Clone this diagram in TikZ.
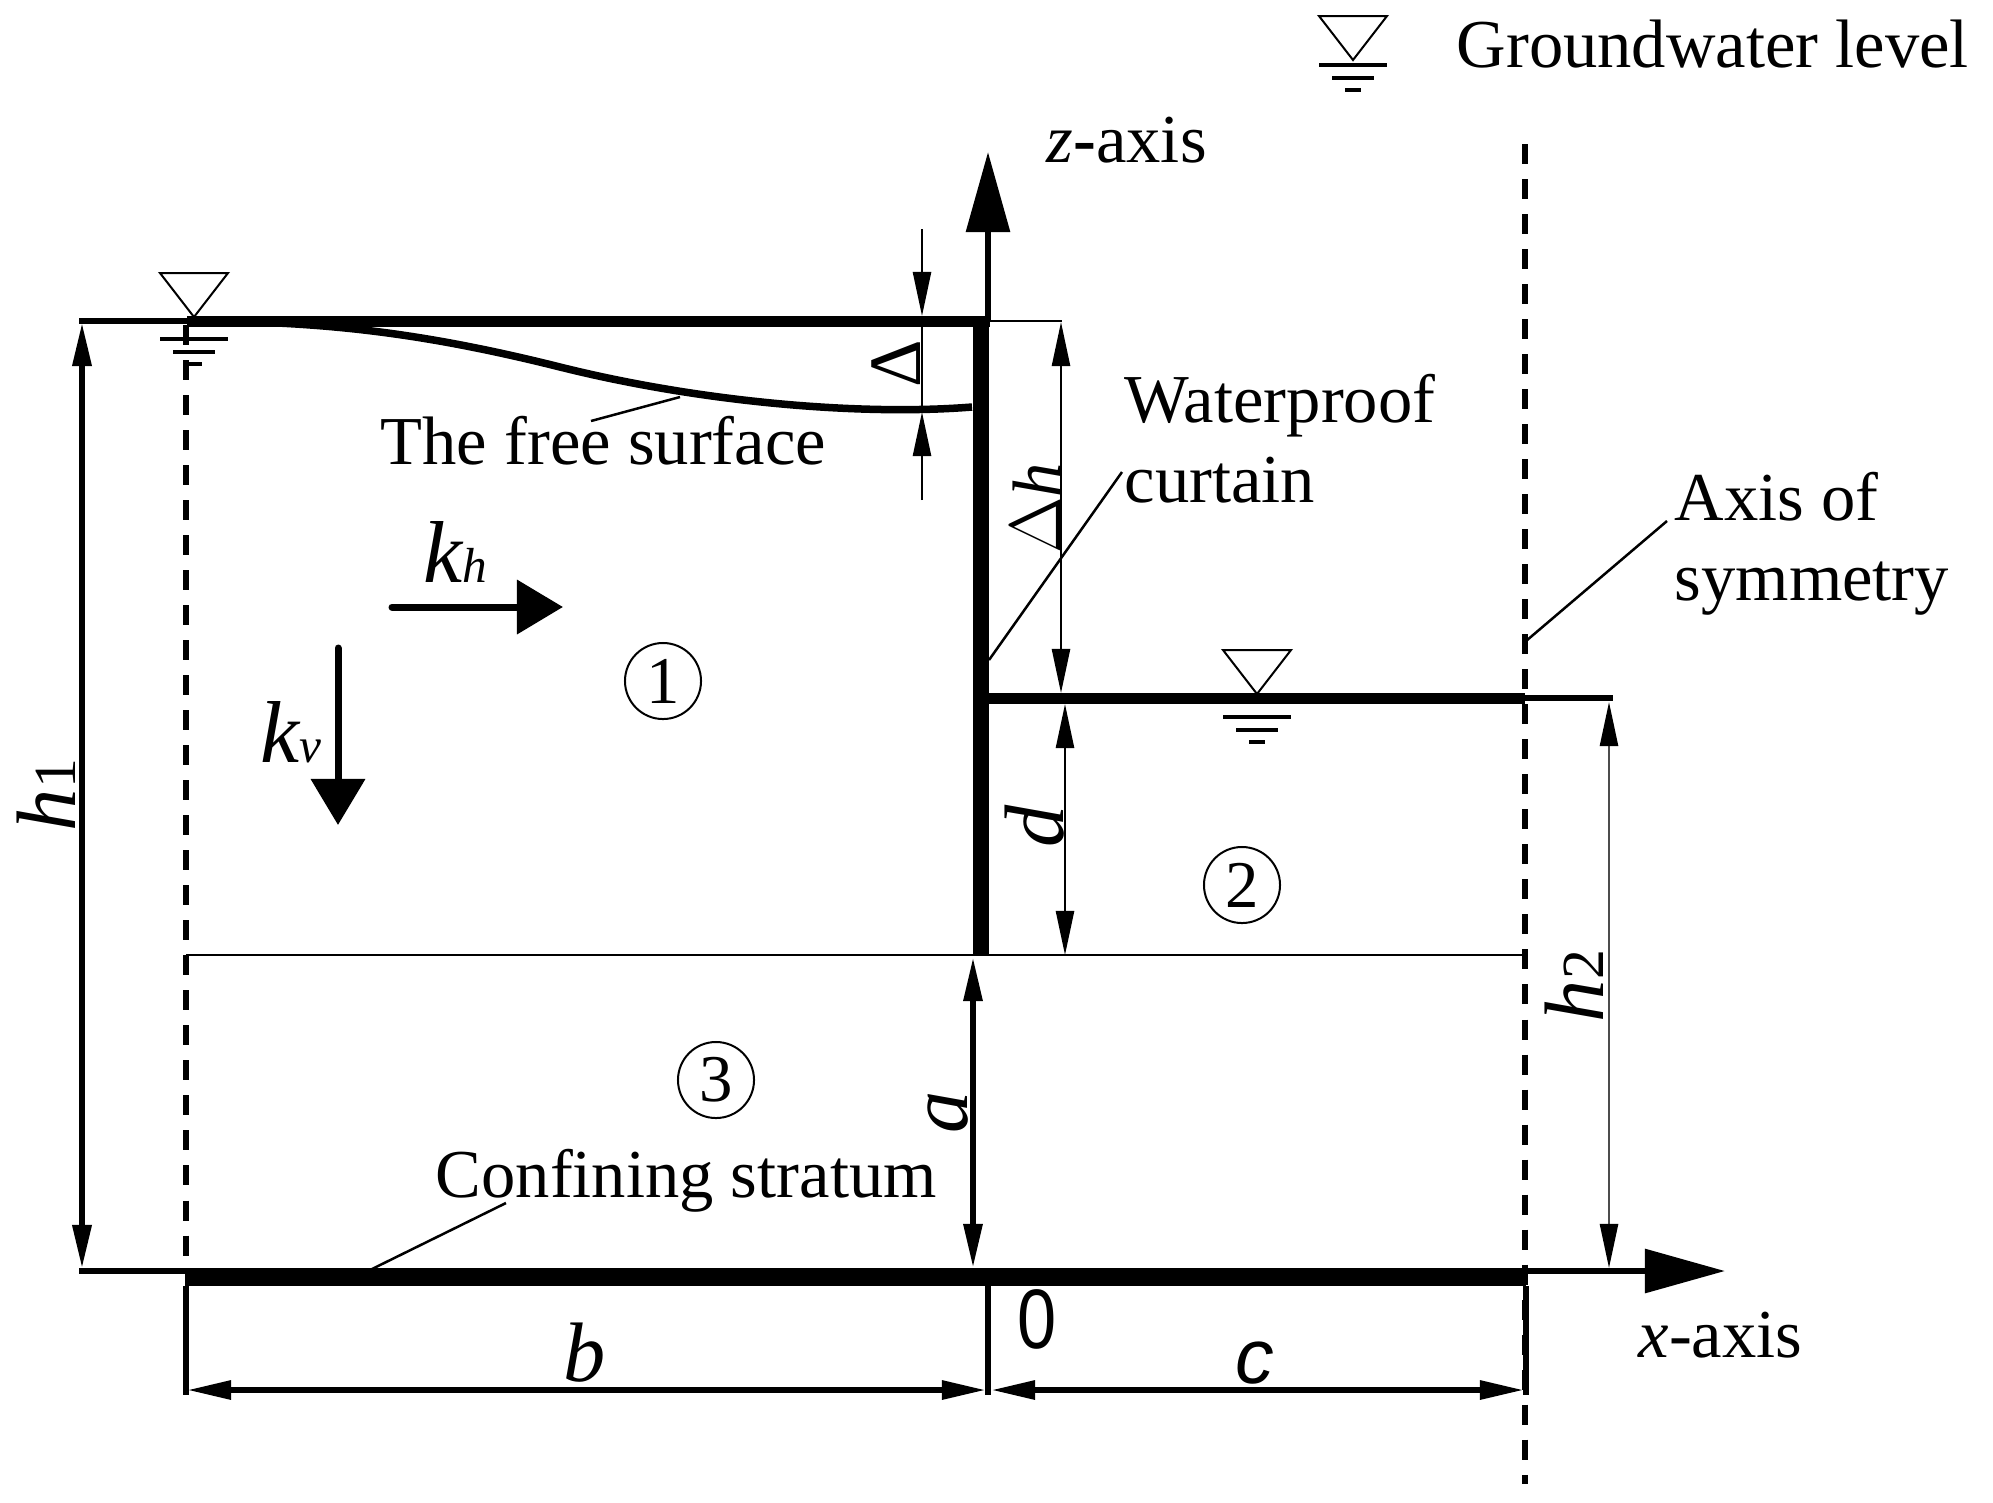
\documentclass[tikz,border=0pt]{standalone}
\usepackage{fontspec}
\setmainfont{Liberation Serif}
\newfontfamily\sansfont{Liberation Sans}
\usetikzlibrary{arrows.meta, calc}
\tikzstyle{txt} = [inner sep=0pt, anchor=base west, align=left, node font=\fontsize{19.5}{22.8}\selectfont]
\tikzstyle{sym} = [inner sep=0pt, anchor=base, node font=\fontsize{24}{28}\selectfont\itshape]
\tikzstyle{dimv} = [sym, rotate=90]
\tikzstyle{zone} = [circle, draw, line width=0.02cm, minimum size=0.76cm, inner sep=0pt, node font=\fontsize{19}{22}\selectfont]
\tikzstyle{leader} = [line width=0.025cm]
\tikzstyle{ground} = [line width=0.11cm]
\tikzstyle{stratum} = [line width=0.165cm]
\tikzstyle{rule} = [line width=0.06cm]
\tikzstyle{guide} = [line width=0.025cm]
\tikzstyle{symline} = [line width=0.065cm, dash pattern=on 0.20cm off 0.15cm]
\tikzstyle{dimarrow} = [{Triangle[length=0.44cm,width=0.18cm]}-{Triangle[length=0.44cm,width=0.18cm]}]
\tikzstyle{greyarrow} = [{Triangle[length=0.44cm,width=0.18cm,black]}-{Triangle[length=0.44cm,width=0.18cm,black]}]
\tikzstyle{downarrow} = [-{Triangle[length=0.44cm,width=0.18cm]}]
\tikzstyle{axisarrow} = [line width=0.06cm, -{Triangle[length=0.8cm,width=0.43cm]}]
\tikzstyle{flowarrow} = [line width=0.07cm, line cap=round, -{Triangle[length=0.46cm,width=0.53cm]}]
\tikzset{pics/level/.style={code={
    \draw[line width=0.02cm] (-34,0) -- (34,0) -- (0,44) -- cycle;
    \draw[line width=0.045cm] (-34,#1) -- (34,#1);
    \draw[line width=0.035cm] (-21,#1+13) -- (21,#1+13);
    \draw[line width=0.035cm] (-8,#1+25) -- (8,#1+25);
}}}

\begin{document}
\begin{tikzpicture}[x=0.01cm,y=-0.01cm]
    \useasboundingbox (0,0) rectangle (1993,1502);

    % main levels
    \coordinate (topleft) at (79,321);
    \coordinate (topthick) at (187,321);
    \coordinate (topright) at (990,321);
    \coordinate (lowleft) at (989,698);
    \coordinate (lowaxis) at (1525,698);
    \coordinate (lowright) at (1613,698);
    \coordinate (baseleft) at (79,1271);
    \coordinate (xtip) at (1725,1271);
    \coordinate (stratleft) at (185,1278);
    \coordinate (stratright) at (1526,1278);
    \coordinate (cuttop) at (981,321);
    \coordinate (cutbottom) at (981,955);
    \coordinate (zfoot) at (988,321);
    \coordinate (ztip) at (988,152);
    \coordinate (tipleft) at (186,955);
    \coordinate (tipright) at (1525,955);

    % symmetry lines
    \coordinate (symltop) at (186,325);
    \coordinate (symlbot) at (186,1270);
    \coordinate (symrtop) at (1525,144);
    \coordinate (symrbot) at (1525,1484);

    \draw[symline] (symltop) -- (symlbot);
    \draw[symline] (symrtop) -- (symrbot);

    \draw[rule] (topleft) -- (topthick);
    \draw[ground] (topthick) -- (topright);
    \draw[ground] (lowleft) -- (lowaxis);
    \draw[rule] (lowaxis) -- (lowright);
    \draw[stratum] (cuttop) -- (cutbottom);
    \draw[axisarrow] (zfoot) -- (ztip);
    \draw[axisarrow] (baseleft) -- (xtip);
    \draw[stratum] (stratleft) -- (stratright);
    \draw[guide] (tipleft) -- (tipright);

    % free surface
    \coordinate (freestart) at (190,321);
    \coordinate (freeend) at (972,407);
    \draw[line width=0.075cm] (freestart) .. controls (320,321) and (420,332) .. (560,367) .. controls (700,402) and (860,416) .. (freeend);

    % water levels
    \pic at (194,273) {level=66};
    \pic at (1257,650) {level=67};
    \pic at (1353,16) {level=49};

    % dimensions
    \coordinate (hatop) at (82,322);
    \coordinate (habot) at (82,1269);
    \draw[dimarrow, line width=0.065cm] (hatop) -- (habot);

    \coordinate (hbtop) at (1609,702);
    \coordinate (hbbot) at (1609,1268);
    \draw[greyarrow, line width=0.025cm, black!70] (hbtop) -- (hbbot);

    \coordinate (atop) at (973,957);
    \coordinate (abot) at (973,1268);
    \draw[dimarrow, line width=0.06cm] (atop) -- (abot);

    \coordinate (dtop) at (1065,704);
    \coordinate (dbot) at (1065,955);
    \draw[dimarrow, line width=0.025cm] (dtop) -- (dbot);

    \coordinate (dhright) at (1062,321);
    \coordinate (dhtop) at (1061,322);
    \coordinate (dhbot) at (1061,693);
    \draw[guide] (topright) -- (dhright);
    \draw[dimarrow, line width=0.025cm] (dhtop) -- (dhbot);

    \coordinate (gapa) at (922,229);
    \coordinate (gapb) at (922,316);
    \coordinate (gapc) at (922,500);
    \coordinate (gapd) at (922,412);
    \draw[downarrow, line width=0.025cm] (gapa) -- (gapb);
    \draw[downarrow, line width=0.025cm] (gapc) -- (gapd);
    \draw[guide] (gapb) -- (gapd);

    \coordinate (blefttop) at (186,1286);
    \coordinate (bleftbot) at (186,1395);
    \coordinate (bmidtop) at (988,1286);
    \coordinate (bmidbot) at (988,1395);
    \coordinate (brighttop) at (1526,1286);
    \coordinate (brightbot) at (1526,1395);
    \draw[rule] (blefttop) -- (bleftbot);
    \draw[rule] (bmidtop) -- (bmidbot);
    \draw[rule] (brighttop) -- (brightbot);

    \coordinate (bdimleft) at (187,1390);
    \coordinate (bdimright) at (986,1390);
    \coordinate (cdimleft) at (991,1390);
    \coordinate (cdimright) at (1524,1390);
    \draw[dimarrow, line width=0.06cm] (bdimleft) -- (bdimright);
    \draw[dimarrow, line width=0.06cm] (cdimleft) -- (cdimright);

    % flow arrows
    \coordinate (khstart) at (392,607);
    \coordinate (khtip) at (563,607);
    \coordinate (kvstart) at (338,648);
    \coordinate (kvtip) at (338,825);
    \draw[flowarrow] (khstart) -- (khtip);
    \draw[flowarrow] (kvstart) -- (kvtip);

    % text
    \node[txt] (legend) at (1456,67) {Groundwater level};
    \node[txt] (zaxis) at (1046,162) {\textit{z}\textbf{-}axis};
    \node[txt] (xaxis) at (1638,1357) {\textit{x}-axis};
    \node[txt] (freetext) at (380,464) {The free surface};
    \node[txt] (confining) at (435,1197) {Confining stratum};
    \node[txt, anchor=north west] (curtain) at (1124,373) {Waterproof\\curtain};
    \node[txt, anchor=north west] (symmetry) at (1674,471) {Axis of\\symmetry};

    % leaders
    \coordinate (freefoot) at (591,421);
    \coordinate (freehead) at (680,397);
    \coordinate (curtainfoot) at (989,660);
    \coordinate (curtainhead) at (1122,472);
    \coordinate (symfoot) at (1526,641);
    \coordinate (symhead) at (1667,521);
    \coordinate (confinefoot) at (372,1269);
    \coordinate (confinehead) at (506,1203);
    \draw[leader] (freefoot) -- (freehead);
    \draw[leader] (curtainfoot) -- (curtainhead);
    \draw[leader] (symfoot) -- (symhead);
    \draw[leader] (confinefoot) -- (confinehead);

    % zones
    \node[zone] (zoneone) at (663,681) {1};
    \node[zone] (zonetwo) at (1242,885) {2};
    \node[zone] (zonethree) at (716,1080) {3};

    % symbols
    \node[sym, anchor=base west] (kh) at (423,582) {\fontsize{25}{30}\selectfont k\fontsize{14}{16}\selectfont h};
    \node[sym, anchor=base west] (kv) at (260,762) {\fontsize{25}{30}\selectfont k\fontsize{14}{16}\selectfont v};
    \node[dimv] (hone) at (75,795) {h\fontsize{17}{20}\selectfont\upshape 1};
    \node[dimv] (htwo) at (1603,986) {h\fontsize{17}{20}\selectfont\upshape 2};
    \node[dimv] (dlabel) at (1063,826) {d};
    \node[dimv] (alabel) at (967,1112) {a};
    \node[dimv, node font=\fontsize{19.5}{22}\selectfont] (dhlabel) at (1060,508) {$\Delta$\textit{h}};
    \node[dimv, node font=\fontsize{21}{24}\selectfont\upshape] (gaplabel) at (920,364) {Δ};
    \node[sym] (blabel) at (585,1381) {b};
    \node[sym, node font=\fontsize{22}{26}\selectfont\sansfont\itshape] (clabel) at (1255,1383) {c};
    \node[sym, node font=\fontsize{20}{24}\selectfont\sansfont\upshape, anchor=center, yscale=1.2] (origin) at (1037,1319) {0};
\end{tikzpicture}
\end{document}
